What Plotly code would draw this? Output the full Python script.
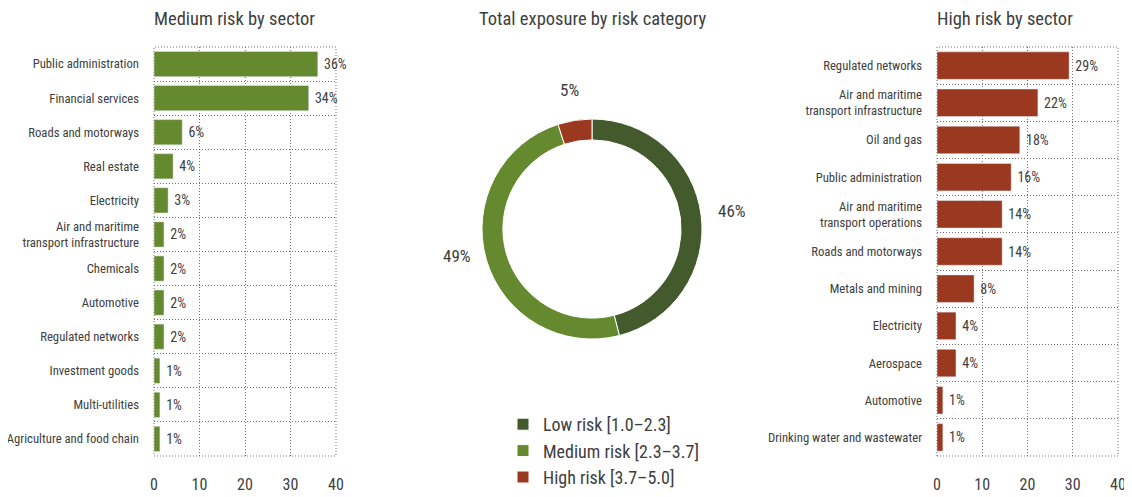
import math
import plotly.graph_objects as go

# medium risk by sector (share of medium-risk exposure, %)
medium_sectors = ["Public administration", "Financial services", "Roads and motorways",
                  "Real estate", "Electricity", "Air and maritime<br>transport infrastructure",
                  "Chemicals", "Automotive", "Regulated networks", "Investment goods",
                  "Multi-utilities", "Agriculture and food chain"]
medium_values = [36, 34, 6.2, 4.2, 3.1, 2.2, 2.2, 2.2, 2.2, 1.3, 1.3, 1.3]

# high risk by sector (share of high-risk exposure, %)
high_sectors = ["Regulated networks", "Air and maritime<br>transport infrastructure",
                "Oil and gas", "Public administration",
                "Air and maritime<br>transport operations", "Roads and motorways",
                "Metals and mining", "Electricity", "Aerospace", "Automotive",
                "Drinking water and wastewater"]
high_values = [29.2, 22.3, 18.3, 16.4, 14.4, 14.4, 8.2, 4.2, 4.2, 1.3, 1.3]

# total exposure by risk category (%)
risk_labels = ["Low risk [1.0\u20132.3]", "Medium risk [2.3\u20133.7]", "High risk [3.7\u20135.0]"]
risk_values = [46, 49, 5]

x_ticks = [0, 10, 20, 30, 40]

FONT = "Liberation Sans Narrow, Roboto Condensed, Arial Narrow, sans-serif"
TEXT = "#404040"
GRID = "#707070"
DOTS = "1px,2px"
C_LOW = "#435b2c"
C_MED = "#64892f"
C_HIGH = "#9b3820"

# page body has an 8px margin, so the figure is shrunk to fit the window
OFF = 8
W, H = 1132 - OFF, 497 - OFF


def px(x):
    return (x - OFF) / W


def py(y):
    return 1 - (y - OFF) / H


ydom = [py(456), py(47)]
left_dom = [px(154), px(336)]
right_dom = [px(937), px(1118)]
pie_cx, pie_cy, pie_r = 592, 229, 110
label_lift = [0, 12, 0]  # vertical nudge of the donut labels, px

fig = go.Figure()

fig.add_trace(go.Bar(
    x=medium_values, y=medium_sectors, orientation="h",
    marker_color=C_MED, width=0.74,
    texttemplate="\u00a0%{x:.0f}%", textposition="outside", cliponaxis=False,
    textfont=dict(size=14, color=TEXT),
    xaxis="x", yaxis="y", showlegend=False,
))

fig.add_trace(go.Bar(
    x=high_values, y=high_sectors, orientation="h",
    marker_color=C_HIGH, width=0.74,
    texttemplate="\u00a0%{x:.0f}%", textposition="outside", cliponaxis=False,
    textfont=dict(size=14, color=TEXT),
    xaxis="x2", yaxis="y2", showlegend=False,
))

fig.add_trace(go.Pie(
    labels=risk_labels, values=risk_values, hole=0.81, sort=False,
    direction="clockwise", rotation=0,
    marker=dict(colors=[C_LOW, C_MED, C_HIGH], line=dict(color="white", width=1)),
    textinfo="none",
    domain=dict(x=[px(pie_cx - pie_r), px(pie_cx + pie_r)],
                y=[py(pie_cy + pie_r), py(pie_cy - pie_r)]),
))

# percentage labels around the donut, placed at each slice's mid angle
total = sum(risk_values)
start = 0
for v, lift in zip(risk_values, label_lift):
    mid = (start + v / 2) / total * 2 * math.pi
    start += v
    r = pie_r + 31
    fig.add_annotation(
        x=px(pie_cx + r * math.sin(mid)), y=py(pie_cy - r * math.cos(mid) - lift),
        xref="paper", yref="paper", text=f"{v}%", showarrow=False,
        xanchor="center", yanchor="middle",
        font=dict(size=17, color=TEXT),
    )

axis_x = dict(range=[0, 40], tickvals=x_ticks, showgrid=True, gridcolor=GRID,
              griddash=DOTS, gridwidth=1, zeroline=False, showline=False,
              tickfont=dict(size=16, color=TEXT), ticklabelstandoff=17,
              fixedrange=True, automargin=False)
axis_y = dict(type="category", autorange="reversed", tickson="boundaries",
              showgrid=True, gridcolor=GRID, griddash=DOTS, gridwidth=1,
              ticks="", showline=False, tickfont=dict(size=12.7, color=TEXT),
              ticklabelstandoff=14, domain=ydom, automargin=False)

fig.update_layout(
    width=W, height=H,
    margin=dict(l=0, r=0, t=0, b=0),
    paper_bgcolor="white", plot_bgcolor="white",
    font=dict(family=FONT, color=TEXT),
    bargap=0.26,
    xaxis=dict(axis_x, domain=left_dom, anchor="y"),
    yaxis=dict(axis_y, anchor="x"),
    xaxis2=dict(axis_x, domain=right_dom, anchor="y2"),
    yaxis2=dict(axis_y, anchor="x2"),
    legend=dict(x=px(503), y=py(406), xanchor="left", yanchor="top",
                font=dict(size=18, color=TEXT), bgcolor="rgba(0,0,0,0)",
                traceorder="normal", tracegroupgap=0),
)

# dotted frames round the bar charts
for xr, yr in [("x domain", "y domain"), ("x2 domain", "y2 domain")]:
    fig.add_shape(type="rect", xref=xr, yref=yr, x0=0, x1=1, y0=0, y1=1,
                  line=dict(color=GRID, width=1, dash=DOTS), layer="below")

# panel titles
for text, x, anchor in [("Medium risk by sector", px(152), "left"),
                        ("Total exposure by risk category", px(pie_cx), "center"),
                        ("High risk by sector", px(935), "left")]:
    fig.add_annotation(x=x, y=py(19), xref="paper", yref="paper", text=text,
                       showarrow=False, xanchor=anchor, yanchor="middle",
                       font=dict(size=18.5, color=TEXT))

fig.write_html("out.html")
